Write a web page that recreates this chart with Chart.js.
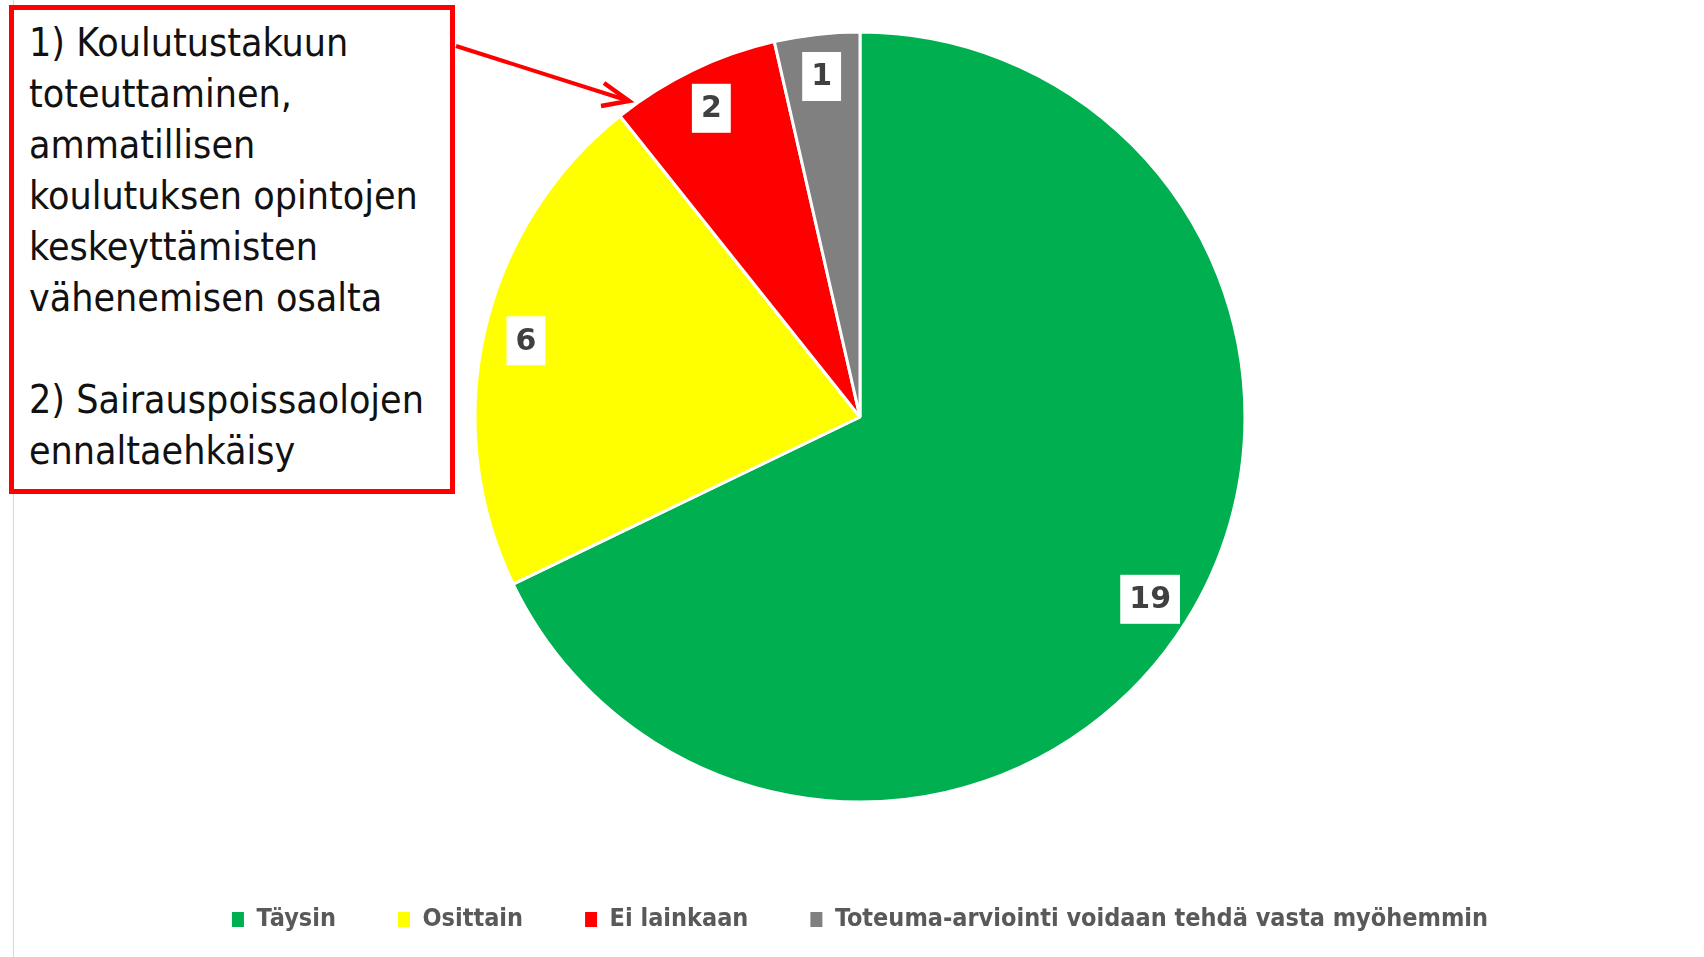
<!DOCTYPE html>
<html>
<head>
<meta charset="utf-8">
<script src="https://cdn.jsdelivr.net/npm/chart.js@4.4.1/dist/chart.umd.min.js"></script>
<style>
    html, body { margin: 0; padding: 0; background: #fff; }
    #wrap { position: relative; width: 1704px; height: 957px; overflow: hidden; }
    #leftLine { position: absolute; left: 13px; top: 0; width: 1px; height: 957px; background: #d9d9d9; }
    #pieChart { position: absolute; left: 0; top: -11px; }
    #note {
        position: absolute; left: 9px; top: 5px; width: 436px; height: 479px;
        border: 5px solid #ff0000; background: #fff; box-sizing: content-box;
    }
    #noteText {
        position: absolute; left: 15px; top: 7px; white-space: pre;
        font-family: "DejaVu Sans Condensed", sans-serif;
        font-size: 39px; line-height: 51px; color: #111;
    }
    #arrow { position: absolute; left: 0; top: 0; }
</style>
</head>
<body>
<div id="wrap">
    <div id="leftLine"></div>
    <canvas id="pieChart" width="1704" height="968"></canvas>
    <div id="note"><div id="noteText">1) Koulutustakuun
toteuttaminen,
ammatillisen
koulutuksen opintojen
keskeyttämisten
vähenemisen osalta

2) Sairauspoissaolojen
ennaltaehkäisy</div></div>
    <svg id="arrow" width="700" height="200">
        <line x1="456" y1="46" x2="626" y2="100" stroke="#ff0000" stroke-width="4"/>
        <polyline points="604,83 629,101 601,106" fill="none" stroke="#ff0000" stroke-width="4.5"/>
    </svg>
</div>
<script>
    var categories = ['Täysin', 'Osittain', 'Ei lainkaan', 'Toteuma-arviointi voidaan tehdä vasta myöhemmin'];
    var values = [19, 6, 2, 1];
    var colors = ['#00B050', '#FFFF00', '#FF0000', '#808080'];

    // arvot valkoisiin laatikoihin lohkojen reunan lähelle
    var boxLabels = {
        id: 'boxLabels',
        afterDatasetsDraw: function (chart) {
            var ctx = chart.ctx;
            var meta = chart.getDatasetMeta(0);
            ctx.save();
            ctx.font = 'bold 30px "DejaVu Sans", sans-serif';
            ctx.textAlign = 'center';
            ctx.textBaseline = 'middle';
            meta.data.forEach(function (arc, i) {
                var p = arc.getProps(['x', 'y', 'startAngle', 'endAngle', 'outerRadius']);
                var mid = (p.startAngle + p.endAngle) / 2;
                var r = p.outerRadius * 0.89;
                var x = p.x + Math.cos(mid) * r;
                var y = p.y + Math.sin(mid) * r;
                var txt = String(values[i]);
                var w = ctx.measureText(txt).width + 18;
                var h = 49;
                ctx.fillStyle = '#ffffff';
                ctx.fillRect(x - w / 2, y - h / 2, w, h);
                ctx.fillStyle = '#404040';
                ctx.fillText(txt, x, y + 1);
            });
            ctx.restore();
        }
    };

    var ctx = document.getElementById('pieChart').getContext('2d');
    var chart = new Chart(ctx, {
        type: 'pie',
        data: {
            labels: categories,
            datasets: [{
                data: values,
                backgroundColor: colors,
                borderColor: '#ffffff',
                borderWidth: 3
            }]
        },
        options: {
            responsive: false,
            animation: false,
            radius: 385,
            layout: { padding: { top: 0, left: 16, right: 0, bottom: 15 } },
            plugins: {
                tooltip: { enabled: false },
                legend: {
                    position: 'bottom',
                    labels: {
                        color: '#595959',
                        boxWidth: 12,
                        boxHeight: 15,
                        padding: 62,
                        font: { family: '"DejaVu Sans Condensed", sans-serif', size: 25, weight: 'bold' },
                        generateLabels: function (chart) {
                            var items = Chart.overrides.pie.plugins.legend.labels.generateLabels(chart);
                            items.forEach(function (it) {
                                it.lineWidth = 0;
                                it.strokeStyle = it.fillStyle;
                            });
                            return items;
                        }
                    }
                }
            }
        },
        plugins: [boxLabels]
    });
</script>
</body>
</html>
